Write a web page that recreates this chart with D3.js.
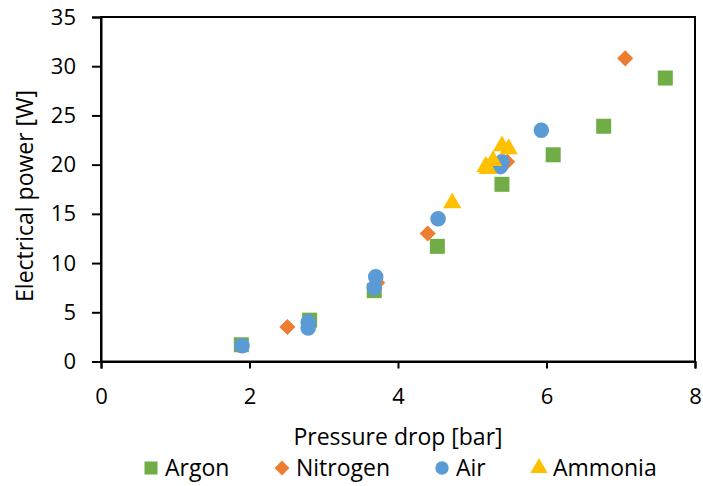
<!DOCTYPE html>
<html><head><meta charset="utf-8">
<script src="https://cdn.jsdelivr.net/npm/d3@7"></script>
<style>
html,body{margin:0;padding:0;background:#fff;}
svg text{font-family:"Open Sans", sans-serif;fill:#000;}
</style>
</head><body>
<svg id="chart" width="703" height="486"></svg>
<script>
const xTicks = [0, 2, 4, 6, 8];
const yTicks = [0, 5, 10, 15, 20, 25, 30, 35];
const seriesNames = ["Argon", "Nitrogen", "Air", "Ammonia"];
const seriesColors = ["#70AD47", "#ED7D31", "#5B9BD5", "#FFC000"];
const argonX = [1.89, 2.81, 3.68, 4.53, 5.40, 6.09, 6.77, 7.60];
const argonY = [1.7, 4.2, 7.2, 11.7, 18.0, 21.0, 23.9, 28.8];
const nitrogenX = [2.51, 3.72, 4.40, 5.47, 7.06];
const nitrogenY = [3.5, 8.0, 13.0, 20.3, 30.8];
const airX = [1.90, 2.79, 2.79, 3.68, 3.70, 4.54, 5.38, 5.40, 5.93];
const airY = [1.6, 4.0, 3.4, 7.5, 8.6, 14.5, 19.8, 20.3, 23.5];
const ammoniaX = [4.73, 5.18, 5.21, 5.28, 5.40, 5.49];
const ammoniaY = [16.2, 19.9, 19.7, 20.5, 22.0, 21.7];

(function () {
const FONT = "'Open Sans', sans-serif";
const series = [
  {name: seriesNames[0], color: seriesColors[0], sym: d3.symbolSquare, size: 225, legSize: 170, xs: argonX, ys: argonY},
  {name: seriesNames[1], color: seriesColors[1], sym: d3.symbolDiamond2, size: 165, legSize: 140, xs: nitrogenX, ys: nitrogenY},
  {name: seriesNames[2], color: seriesColors[2], sym: d3.symbolCircle, size: 190, legSize: 140, xs: airX, ys: airY},
  {name: seriesNames[3], color: seriesColors[3], sym: d3.symbolTriangle, size: 145, legSize: 130, xs: ammoniaX, ys: ammoniaY}
];

const svg = d3.select("#chart");
const pLeft = 101, pRight = 695, pTop = 17, pBottom = 361.5;
const x = d3.scaleLinear().domain([0, 8]).range([pLeft, pRight]);
const y = d3.scaleLinear().domain([0, 35]).range([pBottom, pTop]);

svg.append("rect").attr("x", pLeft).attr("y", pTop).attr("width", pRight - pLeft).attr("height", pBottom - pTop)
  .attr("fill", "none").attr("stroke", "#000").attr("stroke-width", 2);

const xAxis = svg.append("g").attr("transform", `translate(0,${pBottom})`)
  .call(d3.axisBottom(x).tickValues(xTicks).tickSize(7).tickPadding(20).tickFormat(d3.format("d")));
const yAxis = svg.append("g").attr("transform", `translate(${pLeft},0)`)
  .call(d3.axisLeft(y).tickValues(yTicks).tickSize(9).tickPadding(16).tickFormat(d3.format("d")));
[xAxis, yAxis].forEach(g => {
  g.select(".domain").attr("stroke", "#000").attr("stroke-width", 2);
  g.selectAll(".tick line").attr("stroke", "#000").attr("stroke-width", 2);
  g.selectAll(".tick text").attr("font-size", 22).attr("font-family", FONT).attr("fill", "#000");
});

series.forEach(s => {
  const pts = s.xs.map((v, i) => [v, s.ys[i]]);
  svg.append("g").selectAll("path").data(pts).join("path")
    .attr("d", d3.symbol().type(s.sym).size(s.size))
    .attr("transform", d => {
      const dy = s.sym === d3.symbolTriangle ? 1 : 0;
      return `translate(${x(d[0])},${y(d[1]) + dy})`;
    })
    .attr("fill", s.color);
});

svg.append("text").attr("x", 398).attr("y", 445).attr("text-anchor", "middle")
  .attr("font-size", 23).text("Pressure drop [bar]");
svg.append("text").attr("transform", `translate(33,196) rotate(-90)`).attr("text-anchor", "middle")
  .attr("font-size", 23).text("Electrical power [W]");

const legendX = [151, 282, 442, 539];
const lg = svg.append("g");
series.forEach((s, i) => {
  const g = lg.append("g").attr("transform", `translate(${legendX[i]},468)`);
  g.append("path").attr("d", d3.symbol().type(s.sym).size(s.legSize)).attr("fill", s.color);
  g.append("text").attr("x", 14).attr("y", 8).attr("font-size", 23).text(s.name);
});
})();
</script>
</body></html>
